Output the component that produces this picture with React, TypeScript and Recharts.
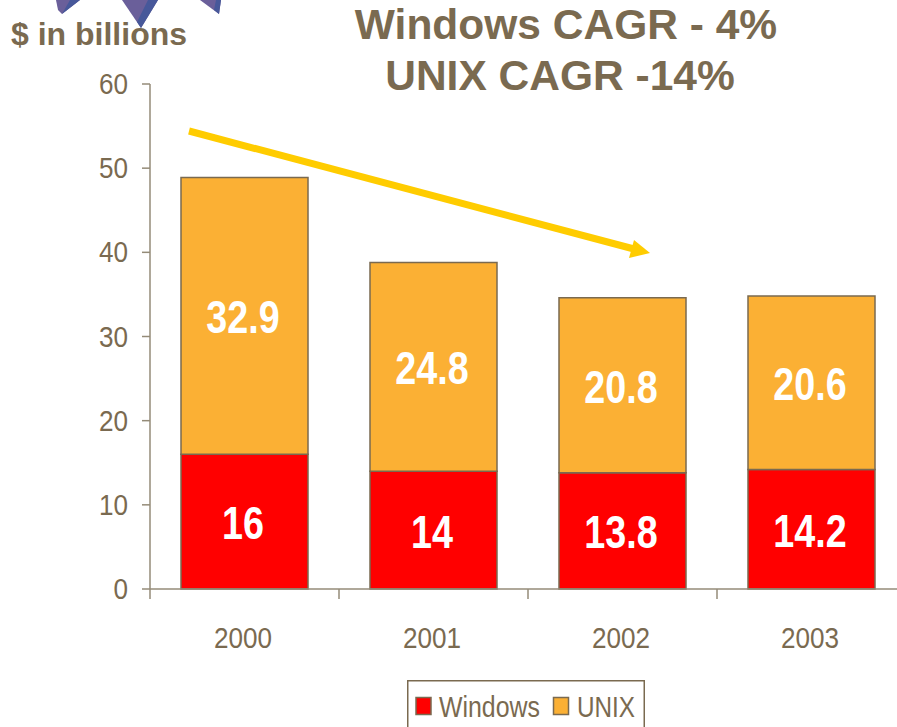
import React from "react";
import { BarChart, Bar, XAxis, YAxis, Legend, LabelList } from "recharts";

const categories = ["2000", "2001", "2002", "2003"];
const windowsValues = [16, 14, 13.8, 14.2];
const unixValues = [32.9, 24.8, 20.8, 20.6];
const yTicks = [0, 10, 20, 30, 40, 50, 60];
const titleLines = ["Windows CAGR - 4%", "UNIX CAGR -14%"];

const rows = categories.map((year, i) => ({ year, Windows: windowsValues[i], UNIX: unixValues[i] }));

const TEXT = "#7a6a50";
const AXIS = "#948b78";
const SANS = "'Liberation Sans', Arial, sans-serif";
const BAND = 189;

const XTick = (props: any) => {
  const { x, y, payload } = props;
  return (
    <g>
      <line x1={x - BAND / 2} x2={x - BAND / 2} y1={y - 8} y2={y + 2} stroke={AXIS} strokeWidth={1.5} />
      <text transform={`translate(${x - 1.5},${y + 50.5}) scale(0.9,1)`} textAnchor="middle" fontFamily={SANS} fontSize={29} fill={TEXT}>{payload.value}</text>
    </g>
  );
};

const YTick = (props: any) => {
  const { x, y, payload } = props;
  return (
    <text transform={`translate(${x},${y + 10}) scale(0.9,1)`} textAnchor="end" fontFamily={SANS} fontSize={29} fill={TEXT}>{payload.value}</text>
  );
};

const LegendBox = () => (
  <svg width={238} height={47} style={{ display: "block" }}>
    <rect x={0.75} y={0.75} width={236.5} height={70} fill="#fff" stroke={TEXT} strokeWidth={1.5} />
    <rect x={9} y={17.5} width={15} height={17} fill="#ff0000" stroke={TEXT} strokeWidth={1.5} />
    <text transform="translate(32,37) scale(0.83,1)" fontFamily={SANS} fontSize={30} fill={TEXT}>Windows</text>
    <rect x={146.5} y={17.5} width={15} height={17} fill="#fbb034" stroke={TEXT} strokeWidth={1.5} />
    <text transform="translate(170,37) scale(0.81,1)" fontFamily={SANS} fontSize={30} fill={TEXT}>UNIX</text>
  </svg>
);

const ValueLabel = (props: any) => {
  const { x, y, width, height, value } = props;
  return (
    <text
      transform={`translate(${x + width / 2 - 1.5},${y + height / 2 + 17.5}) scale(0.82,1)`}
      textAnchor="middle"
      fontFamily={SANS}
      fontWeight={700}
      fontSize={46}
      fill="#ffffff"
    >
      {value}
    </text>
  );
};

export default function App() {
  return (
    <div style={{ position: "fixed", left: 0, top: 0, width: 897, height: 727, overflow: "hidden", background: "#fff" }}>
      <BarChart width={930} height={727} data={rows} margin={{ top: 84, right: 24, bottom: 51, left: 0 }} barSize={127}>
        <XAxis dataKey="year" height={40} tick={<XTick />} tickLine={false} axisLine={{ stroke: AXIS, strokeWidth: 1.5 }} interval={0} />
        <YAxis width={150} domain={[0, 60]} ticks={yTicks} tick={<YTick />} tickSize={8} tickMargin={14} tickLine={{ stroke: AXIS, strokeWidth: 1.5 }} axisLine={{ stroke: AXIS, strokeWidth: 1.5 }} />
        <Legend content={<LegendBox />} wrapperStyle={{ position: "absolute", left: 407, top: 680, width: 238, height: 47 }} />
        <Bar dataKey="Windows" stackId="a" fill="#ff0000" stroke={TEXT} strokeWidth={1.5} isAnimationActive={false}>
          <LabelList dataKey="Windows" content={<ValueLabel />} />
        </Bar>
        <Bar dataKey="UNIX" stackId="a" fill="#fbb034" stroke={TEXT} strokeWidth={1.5} isAnimationActive={false}>
          <LabelList dataKey="UNIX" content={<ValueLabel />} />
        </Bar>
        <g>
          <polygon points="56,0 80,0 62,14 58,10" fill="#6a5f9a" />
          <polygon points="62,14 80,0 70,0" fill="#47589a" />
          <polygon points="122,0 158,0 141,28" fill="#6a5f9a" />
          <polygon points="148,0 158,0 141,28 137,22" fill="#47589a" />
          <polygon points="200,0 221,0 219,14" fill="#6a5f9a" />
          <polygon points="216,0 221,0 219,14 214,10" fill="#47589a" />
        </g>
        <line x1={189} y1={131} x2={634} y2={249} stroke="#ffcc00" strokeWidth={7} />
        <polygon points="634,240 650,253 629,258" fill="#ffcc00" />
        <text x={11} y={45} fontFamily={SANS} fontWeight={700} fontSize={32} fill={TEXT}>$ in billions</text>
        <text x={566} y={39} textAnchor="middle" fontFamily={SANS} fontWeight={700} fontSize={42.5} fill={TEXT}>{titleLines[0]}</text>
        <text x={560} y={90} textAnchor="middle" fontFamily={SANS} fontWeight={700} fontSize={42.5} fill={TEXT}>{titleLines[1]}</text>
      </BarChart>
    </div>
  );
}
